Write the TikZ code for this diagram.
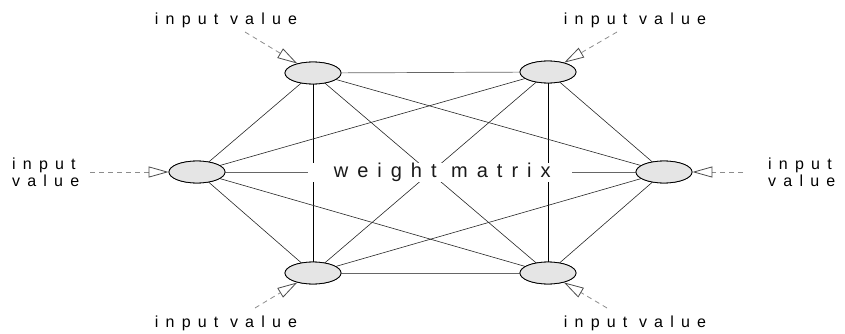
\documentclass[tikz,border=0pt]{standalone}
\usepackage{fontspec}
\setmainfont{Liberation Sans}
\newfontfamily\lblfont[LetterSpace=45]{Liberation Sans}
\usetikzlibrary{arrows.meta,shapes.geometric}
\begin{document}
\begin{tikzpicture}[x=1pt,y=-1pt,
  neuron/.style={ellipse,draw=black,line width=0.8pt,fill=black!10,minimum width=56pt,minimum height=22pt,inner sep=0pt},
  wedge/.style={draw=black!85,line width=0.6pt},
  hwedge/.style={draw=black!60,line width=0.7pt},
  vwedge/.style={draw=black,line width=1pt},
  inarrow/.style={draw=black!45,dash pattern=on 5pt off 4pt,line width=0.8pt,
    -{Triangle[open,length=20pt,width=11pt,line width=0.8pt,color=black!70]}},
  lbl/.style={font=\lblfont\fontsize{16pt}{17pt}\selectfont,inner sep=0pt,text=black},
  wm/.style={font=\lblfont\fontsize{20pt}{22pt}\selectfont,fill=white,inner sep=0pt,
    minimum width=264pt,minimum height=19pt,text=black!90}]
\useasboundingbox (0,0) rectangle (845,334);
% neuron positions
\coordinate (pTL) at (313,73);
\coordinate (pTR) at (548,72);
\coordinate (pL) at (197,172);
\coordinate (pR) at (664,172);
\coordinate (pBL) at (313,273);
\coordinate (pBR) at (548,273);
% nodes (placed first so edges can refer to them; redrawn on top later)
\node[neuron] (TL) at (pTL) {};
\node[neuron] (TR) at (pTR) {};
\node[neuron] (L) at (pL) {};
\node[neuron] (R) at (pR) {};
\node[neuron] (BL) at (pBL) {};
\node[neuron] (BR) at (pBR) {};
% weight edges
\draw[hwedge] (TL) -- (TR);
\draw[hwedge] (BL) -- (BR);
\draw[hwedge] (L) -- (R);
\draw[vwedge] (TL) -- (BL);
\draw[vwedge] (TR) -- (BR);
\draw[wedge] (TL) -- (L);
\draw[wedge] (TL) -- (R);
\draw[wedge] (TL) -- (BR);
\draw[wedge] (TR) -- (L);
\draw[wedge] (TR) -- (R);
\draw[wedge] (TR) -- (BL);
\draw[wedge] (L) -- (BL);
\draw[wedge] (L) -- (BR);
\draw[wedge] (R) -- (BL);
\draw[wedge] (R) -- (BR);
% label in the middle
\node[wm] (wm) at (440,172.5) {\hspace*{4.5pt}weight matrix};
% neurons on top
\foreach \n in {TL,TR,L,R,BL,BR}{\node[neuron] at (p\n) {};}
% input labels
\node[lbl] (iTL) at (226,20) {input value};
\node[lbl] (iTR) at (635,20) {input value};
\node[lbl] (iBL) at (226,323) {input value};
\node[lbl] (iBR) at (635,323) {input value};
\node[lbl,align=left,anchor=west] (iL) at (12,172) {input\\value};
\node[lbl,align=left,anchor=west] (iR) at (768,172) {input\\value};
% input arrow start points
\coordinate (sTL) at (245,32);
\coordinate (sTR) at (617,32);
\coordinate (sBL) at (255,308);
\coordinate (sBR) at (607,308);
\coordinate (sL) at (90,172);
\coordinate (sR) at (743,172);
\draw[inarrow] (sTL) -- (TL);
\draw[inarrow] (sTR) -- (TR);
\draw[inarrow] (sBL) -- (BL);
\draw[inarrow] (sBR) -- (BR);
\draw[inarrow] (sL) -- (L);
\draw[inarrow] (sR) -- (R);
\end{tikzpicture}
\end{document}
